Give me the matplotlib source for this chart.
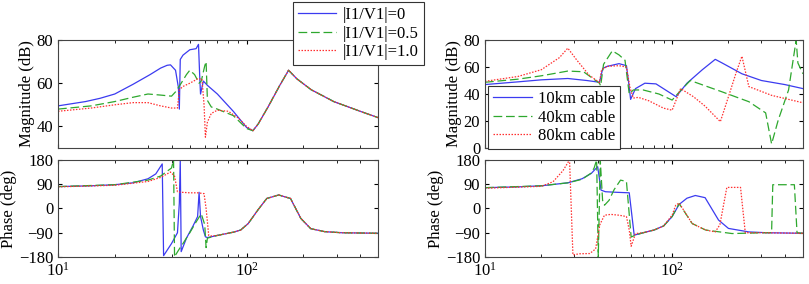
import numpy as np
import matplotlib
matplotlib.use("Agg")
import matplotlib.pyplot as plt

plt.rcParams['font.family'] = ['Liberation Serif', 'DejaVu Serif']
plt.rcParams['mathtext.fontset'] = 'stix'
plt.rcParams['font.size'] = 12

# ---- left: |I1/V1| cases ----
labels_l = ['|I1/V1|=0', '|I1/V1|=0.5', '|I1/V1|=1.0']

f_tail_mag = [108, 115, 130, 150, 167, 185, 220, 290, 400, 500]
m_tail = [38, 41, 49, 59, 66, 62, 57, 51.5, 47, 44]

f_mag_l0 = [10, 14, 16.7, 20, 25, 30.8, 35, 37.9, 39.5, 42, 43.5, 44, 44.5, 46, 50, 54, 55.6, 56.5, 57, 59, 62, 70, 85, 100] + f_tail_mag
m_l0 = [49.5, 51.5, 53, 55, 59.5, 64, 67, 68.3, 68.5, 66, 58, 48, 71, 73, 75.5, 76, 78, 62, 55, 61, 59, 55, 47, 39.5] + m_tail

f_mag_l1 = [10, 15, 20, 25, 30, 35, 40, 42, 45, 48, 50, 53, 56, 57.5, 60, 61, 62, 65, 70, 85, 100] + f_tail_mag
m_l1 = [48, 49.5, 51.5, 53.5, 55, 54.5, 54, 56, 60, 64, 66, 64, 60, 61, 68, 70, 52, 49, 48, 45, 39] + m_tail

f_mag_l2 = [10, 15, 20, 25, 30, 35, 40, 43, 44, 46, 50, 55, 58, 59.5, 60.5, 62, 65, 70, 80, 90, 100] + f_tail_mag
m_l2 = [47, 48.5, 50, 51, 51, 49.5, 48.5, 48.5, 57, 58.5, 60, 62, 62, 50, 35, 42, 46, 47.5, 47, 44, 40] + m_tail

f_tail_ph = [70, 85, 93, 102, 115, 128, 148, 171, 194, 219, 260, 320, 500]
p_tail = [-100, -88, -80, -56, -5, 37, 50, 37, -37, -75, -86, -90, -92]

f_ph_l0 = [10, 15, 20, 25, 30, 33, 35.7, 36.3, 40, 43, 44, 44.5, 45, 48, 52, 55, 56, 57, 59, 60.5, 62] + f_tail_ph
p_l0 = [81, 84, 88, 95, 110, 128, 165, -175, -130, -90, 20, 180, -160, -110, -65, -30, 60, -30, -80, -105, -108] + p_tail

f_ph_l1 = [10, 20, 30, 35, 40, 41, 41.5, 41.8, 44, 46, 50, 54, 57.5, 60, 61, 62, 65] + f_tail_ph
p_l1 = [81, 88, 105, 120, 150, 180, -180, -175, -150, -130, -90, -50, -20, -60, -145, -110, -106] + p_tail

f_ph_l2 = [10, 20, 30, 35, 39.5, 41.5, 43, 45, 50, 55, 59.5, 61, 63, 65] + f_tail_ph
p_l2 = [80, 86, 100, 115, 135, 120, 62, 60, 58, 58, 55, 0, -100, -102] + p_tail

# ---- right: cable lengths ----
labels_r = ['10km cable', '40km cable', '80km cable']

f_mag_r0 = [10, 15, 20, 27.7, 35, 40.9, 42.6, 45, 52, 57, 59, 60, 63.7, 71.5, 82, 105, 120, 145, 170, 185, 236, 300, 400, 500]
m_r0 = [47, 49, 50.5, 51.5, 50, 48.7, 59, 60.5, 62.5, 61, 45, 36, 44, 48, 47.5, 38, 48, 58, 65.7, 63, 55, 50, 47, 44]

f_mag_r1 = [10, 15, 20, 27.7, 33.6, 39, 40.9, 41.5, 43, 47.9, 52, 56, 59, 62, 70, 85, 100, 110, 125, 184, 257, 316, 340, 369, 419, 460, 470, 500]
m_r1 = [48.7, 51, 53.5, 57, 56.5, 50, 48, 46, 62, 72, 69, 65, 40, 43, 43, 40, 35.5, 42, 50, 41.7, 34.3, 26, 3, 20.7, 43, 80, 63, 55]

f_mag_r2 = [10, 15, 20, 25, 27.7, 31, 36, 40.9, 42, 45, 52, 57, 59.5, 62, 66, 75, 90, 100, 111, 130, 150, 181, 200, 220, 236, 257, 340, 500]
m_r2 = [49.4, 53, 58, 67, 74, 65, 54, 48.5, 58, 60.5, 61, 60, 45, 37, 37.5, 35, 29.5, 28, 44, 38, 31, 19.5, 38, 56, 68, 45.5, 39, 33.5]

f_ph_r0 = [10, 15, 20, 27.7, 33, 37, 40, 41.7, 44, 50, 59, 62.7, 70, 80, 90, 100, 109, 120, 133, 150, 177, 200, 257, 320, 500]
p_r0 = [77, 80, 84, 95, 110, 130, 155, 68, 62, 60, 58, -99, -90, -80, -65, -30, 15, 38, 48, 40, -43, -74, -87, -90, -92]

f_ph_r1 = [10, 20, 27.7, 33, 36.9, 38.3, 39.5, 40.3, 41.3, 42.5, 43.5, 46, 49, 53, 57, 60.4, 63, 70, 80, 90, 100, 109, 128, 151, 209, 316, 340, 345, 450, 465, 500]
p_r1 = [77, 84, 95, 108, 131, 150, 180, -180, 180, 30, 12, 30, 70, 105, 100, -106, -100, -90, -80, -65, -30, 18, -56, -80, -93, -90, -90, 88, 88, -90, -92]

f_ph_r2 = [10, 20, 23.1, 26.1, 28.3, 29.5, 32, 36.3, 39, 41.1, 43.5, 47, 52, 57, 59, 60.4, 63.7, 70, 80, 90, 100, 104.5, 109, 128, 151, 170, 180, 196, 232, 246, 300, 500]
p_r2 = [75, 82, 99, 140, 180, -172, -168, -167, -150, -60, -25, -22, -25, -30, -80, -140, -93, -90, -80, -65, -25, 12, 20, -56, -80, -87, -60, 78, 78, -90, -90, -92]

colors = ['#3b3bf0', '#2ea82e', '#ff3030']
styles = [dict(linestyle='-'), dict(linestyle=(0, (7, 3))), dict(linestyle=(0, (1.2, 1.2)))]

fig = plt.figure(figsize=(8.09, 2.84), dpi=100)

def setup(ax, ylim, yticks, ylabel, xlabels):
    ax.set_xscale('log')
    ax.set_xlim(10, 500)
    ax.set_ylim(*ylim)
    ax.set_yticks(yticks)
    ax.set_ylabel(ylabel, labelpad=1)
    ax.tick_params(which='both', direction='in', top=True, right=True, length=3)
    ax.tick_params(which='minor', length=2)
    ax.set_xticks([10, 100])
    if not xlabels:
        ax.tick_params(axis='x', which='both', labelbottom=False)
    for s in ax.spines.values():
        s.set_color('#444444')
        s.set_linewidth(0.8)

axl_m = fig.add_axes([0.0717, 0.479, 0.396, 0.380])
axl_p = fig.add_axes([0.0717, 0.095, 0.396, 0.342])
axr_m = fig.add_axes([0.5995, 0.479, 0.393, 0.380])
axr_p = fig.add_axes([0.5995, 0.095, 0.393, 0.342])

lines_l = []
for f, m, c, st, lab in zip([f_mag_l0, f_mag_l1, f_mag_l2], [m_l0, m_l1, m_l2], colors, styles, labels_l):
    ln, = axl_m.plot(f, m, color=c, lw=0.9, label=lab, **st)
    lines_l.append(ln)
for f, p, c, st in zip([f_ph_l0, f_ph_l1, f_ph_l2], [p_l0, p_l1, p_l2], colors, styles):
    axl_p.plot(f, p, color=c, lw=0.9, **st)

for f, m, c, st, lab in zip([f_mag_r0, f_mag_r1, f_mag_r2], [m_r0, m_r1, m_r2], colors, styles, labels_r):
    axr_m.plot(f, m, color=c, lw=0.9, label=lab, **st)
for f, p, c, st in zip([f_ph_r0, f_ph_r1, f_ph_r2], [p_r0, p_r1, p_r2], colors, styles):
    axr_p.plot(f, p, color=c, lw=0.9, **st)

setup(axl_m, (30, 80), [40, 60, 80], 'Magnitude (dB)', False)
setup(axl_p, (-180, 180), [-180, -90, 0, 90, 180], 'Phase (deg)', True)
setup(axr_m, (0, 80), [0, 20, 40, 60, 80], 'Magnitude (dB)', False)
setup(axr_p, (-180, 180), [-180, -90, 0, 90, 180], 'Phase (deg)', True)

leg = fig.legend(handles=lines_l, loc='upper left', bbox_to_anchor=(293 / 809, 1 - 2 / 284),
                 fancybox=False, edgecolor='#333333', framealpha=1, handlelength=2.3,
                 labelspacing=0.15, borderpad=0.3, handletextpad=0.4, borderaxespad=0)
leg.get_frame().set_linewidth(0.8)
leg2 = axr_m.legend(loc='lower left', bbox_to_anchor=(0.01, -0.01), fancybox=False,
                    edgecolor='#333333', framealpha=1, handlelength=2.3, labelspacing=0.15,
                    borderpad=0.3, handletextpad=0.4, borderaxespad=0)
leg2.get_frame().set_linewidth(0.8)

fig.savefig('out.png', dpi=100)
